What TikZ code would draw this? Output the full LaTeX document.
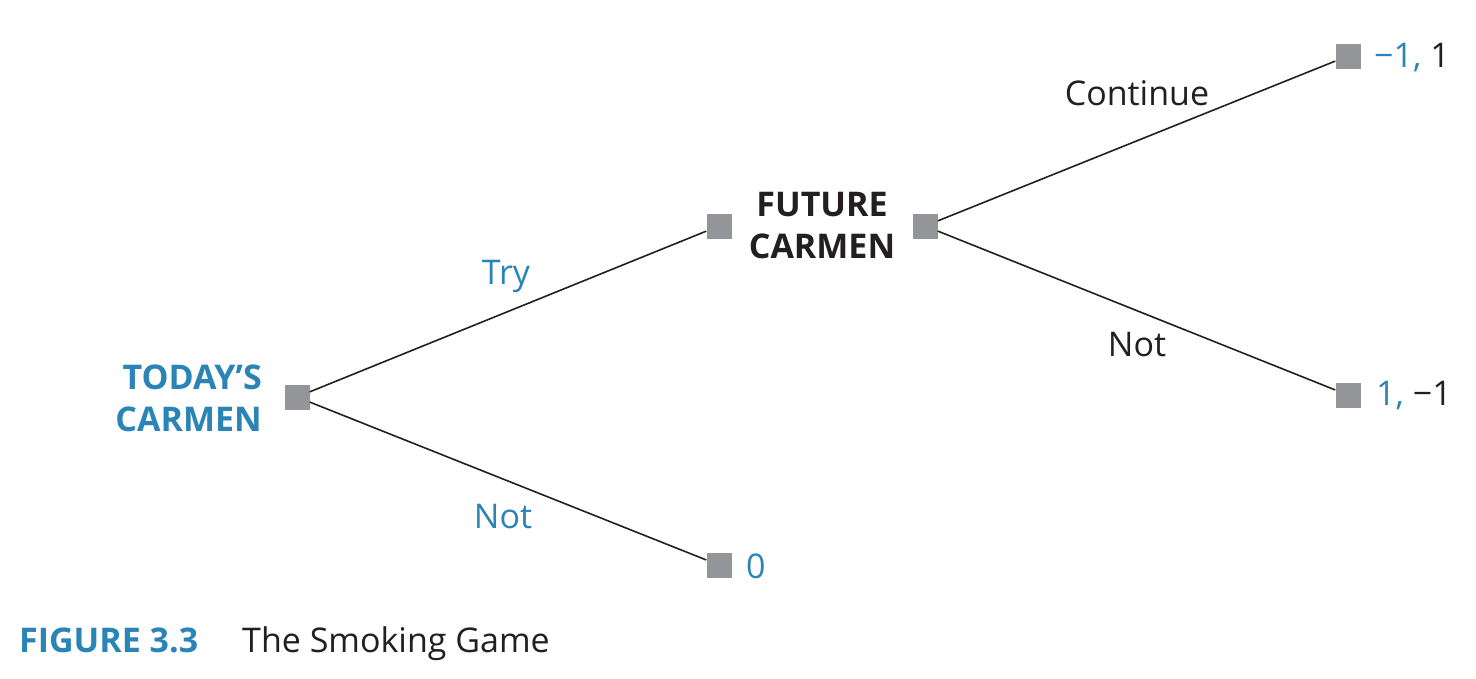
\documentclass[tikz,border=0pt]{standalone}
\usepackage{fontspec}
\setmainfont{Open Sans}
\definecolor{cblue}{HTML}{2A84B6}
\definecolor{cgray}{HTML}{939598}
\definecolor{ctext}{HTML}{231F20}
\begin{document}
\begin{tikzpicture}[x=1pt,y=-1pt,
  sq/.style={fill=cgray,minimum size=25pt,inner sep=0pt,draw=none},
  lbl/.style={font=\fontsize{34}{42}\selectfont,inner sep=0pt,text=ctext},
  blbl/.style={lbl,text=cblue},
  player/.style={font=\fontsize{34}{42}\selectfont\bfseries,inner sep=0pt},
  branch/.style={draw=ctext,line width=1.6pt}]
\useasboundingbox (0,0) rectangle (1476,678);
% decision nodes
\node[sq] (t) at (297,397) {};
\node[sq] (fl) at (719,226) {};
\node[sq] (fr) at (925,226) {};
\node[sq] (z) at (719,565) {};
\node[sq] (c) at (1348,56) {};
\node[sq] (n) at (1348,395) {};
% branches
\draw[branch] (t) -- (fl);
\draw[branch] (t) -- (z);
\draw[branch] (fr) -- (c);
\draw[branch] (fr) -- (n);
% players
\node[player,text=cblue,align=right,anchor=east] (tc) at (262,398) {TODAY’S\\CARMEN};
\node[player,text=ctext,align=center] (fc) at (822,226) {FUTURE\\CARMEN};
% action labels
\node[blbl] (try) at (506,276) {Try};
\node[blbl] (not1) at (503,517) {Not};
\node[lbl] (cont) at (1137,93) {Continue};
\node[lbl] (not2) at (1137,345) {Not};
% payoffs
\node[lbl,anchor=west] (pc) at (1374,58) {\textcolor{cblue}{−1,} 1};
\node[lbl,anchor=west] (pn) at (1376,396) {\textcolor{cblue}{1,} −1};
\node[blbl,anchor=west] (pz) at (746,566) {0};
% caption
\node[player,text=cblue,anchor=base west] (fig) at (19,652) {FIGURE 3.3};
\node[lbl,anchor=base west] (cap) at (242,652) {The Smoking Game};
\end{tikzpicture}
\end{document}
